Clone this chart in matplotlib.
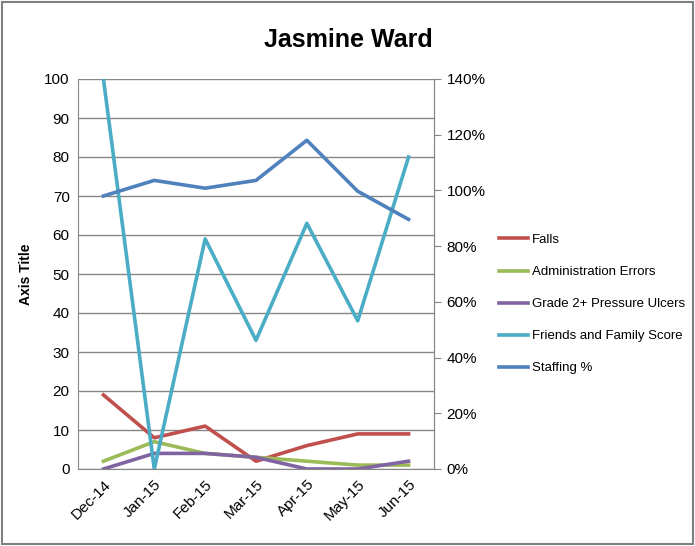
import numpy as np
import matplotlib.pyplot as plt
from matplotlib.ticker import PercentFormatter

months = ["Dec-14", "Jan-15", "Feb-15", "Mar-15", "Apr-15", "May-15", "Jun-15"]
falls = [19, 8, 11, 2, 6, 9, 9]
admin_errors = [2, 7, 4, 3, 2, 1, 1]
pressure_ulcers = [0, 4, 4, 3, 0, 0, 2]
friends_family = [100, 0, 59, 33, 63, 38, 80]
staffing_pct = [98, 103.6, 100.8, 103.6, 118, 99.7, 89.6]

plt.rcParams["font.family"] = ["Liberation Sans", "DejaVu Sans"]

fig = plt.figure(figsize=(6.95, 5.46), dpi=100)
ax = fig.add_axes([78 / 695, 1 - 469 / 546, 356 / 695, 390 / 546])
x = np.arange(len(months))

lw = 2.6
l1, = ax.plot(x, falls, color="#C0504D", lw=lw, label="Falls")
l2, = ax.plot(x, admin_errors, color="#9BBB59", lw=lw, label="Administration Errors")
l3, = ax.plot(x, pressure_ulcers, color="#8064A2", lw=lw, label="Grade 2+ Pressure Ulcers")
l4, = ax.plot(x, friends_family, color="#4BACC6", lw=lw, label="Friends and Family Score")

# staffing is plotted against the percentage axis on the right
ax2 = ax.twinx()
l5, = ax2.plot(x, staffing_pct, color="#4F81BD", lw=lw, label="Staffing %")
ax2.set_ylim(0, 140)
ax2.set_yticks(np.arange(0, 141, 20))
ax2.yaxis.set_major_formatter(PercentFormatter(decimals=0))

ax.set_xlim(-0.5, len(months) - 0.5)
ax.set_ylim(0, 100)
ax.set_yticks(np.arange(0, 101, 10))
ax.set_xticks(x)
ax.set_xticklabels(months, rotation=45, ha="right", rotation_mode="anchor")
ax.grid(axis="y", color="#868686", lw=1)
ax.set_axisbelow(True)
ax.tick_params(axis="y", length=0, labelsize=11, pad=6)
ax.tick_params(axis="x", length=0, labelsize=11, pad=6)
ax2.tick_params(axis="y", length=5, color="#868686", labelsize=11, pad=4)

for a in (ax, ax2):
    for s in a.spines.values():
        s.set_color("#868686")
    a.spines["top"].set_visible(False)
ax2.spines["left"].set_visible(False)
ax2.spines["bottom"].set_visible(False)

ax.set_ylabel("Axis Title", fontsize=10, fontweight="bold", labelpad=8)
fig.text(348 / 695, 1 - 40 / 546, "Jasmine Ward", fontsize=18, fontweight="bold",
         ha="center", va="center")

fig.legend(handles=[l1, l2, l3, l4, l5], loc="upper left",
           bbox_to_anchor=(487 / 695, 1 - 222 / 546), frameon=False,
           fontsize=9.5, handlelength=2.2, handletextpad=0.3, labelspacing=1.5)

border = plt.Rectangle((0.003, 0.003), 0.994, 0.994, transform=fig.transFigure,
                       fill=False, edgecolor="#7f7f7f", lw=1.5)
fig.patches.append(border)

fig.savefig("out.png", dpi=100)
